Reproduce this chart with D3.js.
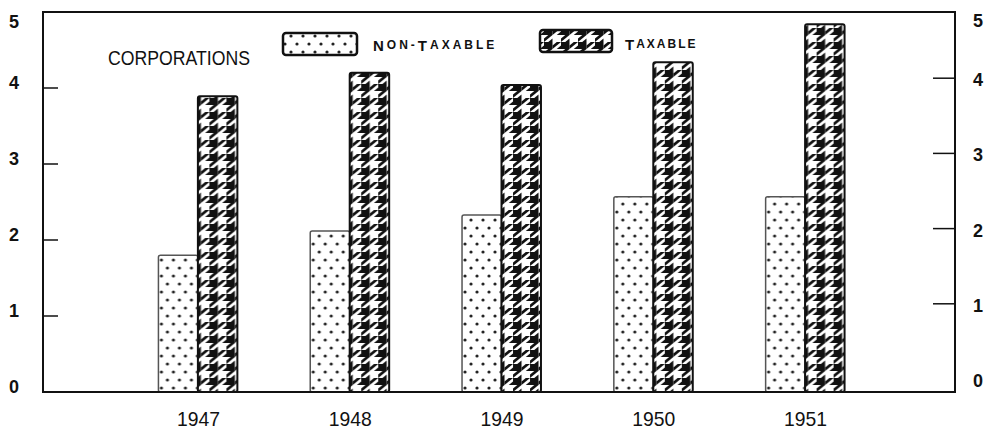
<!DOCTYPE html>
<html>
<head>
<meta charset="utf-8">
<script src="https://cdn.jsdelivr.net/npm/d3@7"></script>
<style>
  body { margin: 0; background: #fff; }
  text { font-family: "Liberation Sans Narrow", "Liberation Sans", "DejaVu Sans Condensed", sans-serif; fill: #111; }
</style>
</head>
<body>
<div id="corporations"></div>
<script>
const years = ["1947", "1948", "1949", "1950", "1951"];
const nonTaxable = [1.80, 2.12, 2.33, 2.57, 2.57];
const taxable = [3.89, 4.20, 4.04, 4.34, 4.84];
const series = ["nonTaxable", "taxable"];
const yTicks = [0, 1, 2, 3, 4, 5];

(function corporations() {
  const width = 986,
    height = 429;

  const svg = d3.select("#corporations")
    .append("svg")
    .attr("width", width)
    .attr("height", height)
    .attr("viewBox", [0, 0, width, height]);

  const defs = svg.append("defs");

  // dotted fill for non-taxable
  const dots = defs.append("pattern")
    .attr("id", "dots")
    .attr("patternUnits", "userSpaceOnUse")
    .attr("width", 12)
    .attr("height", 16);
  dots.append("rect").attr("width", 12).attr("height", 16).attr("fill", "#fff");
  dots.append("circle").attr("cx", 3).attr("cy", 4).attr("r", 1.6).attr("fill", "#222");
  dots.append("circle").attr("cx", 9).attr("cy", 12).attr("r", 1.6).attr("fill", "#222");

  // houndstooth fill for taxable (4x4 unit tile, one tooth)
  const ux = 17 / 4, uy = 14 / 4;
  const hound = defs.append("pattern")
    .attr("id", "hound")
    .attr("patternUnits", "userSpaceOnUse")
    .attr("width", 4 * ux)
    .attr("height", 4 * uy);
  hound.append("rect").attr("width", 4 * ux).attr("height", 4 * uy).attr("fill", "#fff");
  const tooth = [
    [[0, 0], [2, 0], [2, 2], [0, 2]],
    [[2, 1], [3, 0], [4, 0], [2, 2]],
    [[3, 2], [4, 1], [4, 2]],
    [[1, 2], [2, 2], [0, 4], [0, 3]],
    [[2, 3], [2, 4], [1, 4]]
  ];
  hound.selectAll("polygon")
    .data(tooth)
    .join("polygon")
    .attr("points", d => d.map(p => [p[0] * ux, p[1] * uy].join(",")).join(" "))
    .attr("fill", "#111");

  const left = 43, right = 955, top = 12, bottom = 392;

  const y = d3.scaleLinear().domain([0, 5]).range([bottom, top]);
  const yRight = d3.scaleLinear().domain([0, 5]).range([379, 3]);

  const x = d3.scaleBand()
    .domain(years)
    .range([122, 881])
    .paddingInner(0.48)
    .paddingOuter(0.24);

  const xs = d3.scaleBand()
    .domain(series)
    .range([0, x.bandwidth()]);

  const fills = { nonTaxable: "url(#dots)", taxable: "url(#hound)" };
  const rows = years.map((yr, i) => ({ year: yr, nonTaxable: nonTaxable[i], taxable: taxable[i] }));

  // bars
  svg.append("g")
    .selectAll("g")
    .data(rows)
    .join("g")
    .attr("transform", d => `translate(${x(d.year)},0)`)
    .selectAll("rect")
    .data(d => series.map(k => ({ key: k, value: d[k] })))
    .join("rect")
    .attr("x", d => xs(d.key))
    .attr("y", d => y(d.value))
    .attr("width", xs.bandwidth())
    .attr("height", d => y(0) - y(d.value))
    .attr("rx", 2)
    .attr("fill", d => fills[d.key])
    .attr("stroke", d => d.key === "taxable" ? "#111" : "#555")
    .attr("stroke-width", d => d.key === "taxable" ? 2 : 1.5);

  // frame
  svg.append("path")
    .attr("d", `M${left},${top}H${right}V${bottom}H${left}Z`)
    .attr("fill", "none")
    .attr("stroke", "#111")
    .attr("stroke-width", 2);

  // left ticks + labels
  svg.append("g")
    .selectAll("line")
    .data(yTicks.filter(v => v > 0 && v < 5))
    .join("line")
    .attr("x1", left).attr("x2", left + 15)
    .attr("y1", d => y(d)).attr("y2", d => y(d))
    .attr("stroke", "#111").attr("stroke-width", 1.5);

  svg.append("g")
    .selectAll("text")
    .data(yTicks)
    .join("text")
    .attr("x", 14)
    .attr("y", d => Math.max(22, y(d) - 5))
    .attr("dominant-baseline", "central")
    .attr("text-anchor", "middle")
    .style("font-size", "18px")
    .style("font-weight", "bold")
    .text(d => d);

  // right ticks + labels
  svg.append("g")
    .selectAll("line")
    .data(yTicks.filter(v => v > 0 && v < 5))
    .join("line")
    .attr("x1", right - 22).attr("x2", right)
    .attr("y1", d => yRight(d)).attr("y2", d => yRight(d))
    .attr("stroke", "#111").attr("stroke-width", 1.5);

  svg.append("g")
    .selectAll("text")
    .data(yTicks)
    .join("text")
    .attr("x", 978)
    .attr("y", d => Math.min(383, Math.max(21, yRight(d) + 2)))
    .attr("dominant-baseline", "central")
    .attr("text-anchor", "middle")
    .style("font-size", "18px")
    .style("font-weight", "bold")
    .text(d => d);

  // year labels
  svg.append("g")
    .selectAll("text")
    .data(years)
    .join("text")
    .attr("x", d => x(d) + x.bandwidth() / 2 - 21)
    .attr("y", 418)
    .attr("dominant-baseline", "central")
    .attr("textLength", 43)
    .attr("lengthAdjust", "spacingAndGlyphs")
    .style("font-size", "21px")
    .text(d => d);

  // legend
  svg.append("text")
    .attr("x", 108)
    .attr("y", 58)
    .attr("dominant-baseline", "central")
    .attr("textLength", 142)
    .attr("lengthAdjust", "spacingAndGlyphs")
    .style("font-size", "20px")
    .text("CORPORATIONS");

  svg.append("rect")
    .attr("x", 283).attr("y", 33)
    .attr("width", 74).attr("height", 22)
    .attr("rx", 3)
    .attr("fill", fills.nonTaxable)
    .attr("stroke", "#111").attr("stroke-width", 2.5);

  svg.append("rect")
    .attr("x", 540).attr("y", 30)
    .attr("width", 72).attr("height", 22)
    .attr("rx", 3)
    .attr("fill", fills.taxable)
    .attr("stroke", "#111").attr("stroke-width", 2.5);

  const smallCaps = (sel, parts) => {
    parts.forEach(([s, big]) => sel.append("tspan")
      .style("font-size", big ? "15px" : "12px")
      .text(s));
  };

  const t1 = svg.append("text")
    .attr("x", 373).attr("y", 45)
    .attr("dominant-baseline", "central")
    .style("font-weight", "bold")
    .style("letter-spacing", "3px");
  smallCaps(t1, [["N", true], ["ON", false], ["-", false], ["T", true], ["AXABLE", false]]);

  const t2 = svg.append("text")
    .attr("x", 625).attr("y", 44)
    .attr("dominant-baseline", "central")
    .style("font-weight", "bold")
    .style("letter-spacing", "2px");
  smallCaps(t2, [["T", true], ["AXABLE", false]]);
})();
</script>
</body>
</html>
